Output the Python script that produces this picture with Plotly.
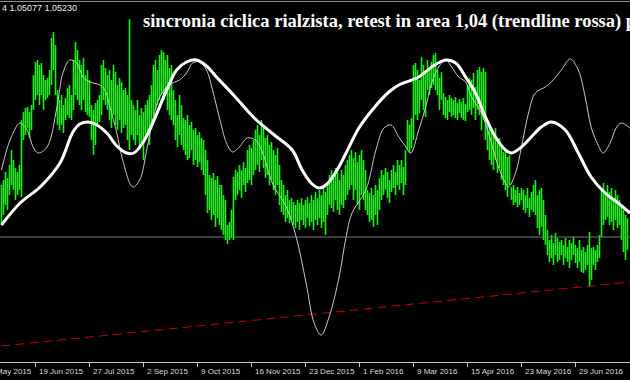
import plotly.graph_objects as go

# ---------------- data ----------------
bar_high = [
    1.0627, 1.0637, 1.0653, 1.0641, 1.0667, 1.0697, 1.0677, 1.0661, 1.0653, 1.0667,
    1.0757, 1.0773, 1.0781, 1.0783, 1.0773, 1.0787, 1.0847, 1.0873, 1.0877, 1.0867,
    1.0871, 1.0847, 1.0837, 1.0841, 1.0857, 1.0921, 1.0933, 1.0907, 1.0817, 1.0797,
    1.0807, 1.0787, 1.0801, 1.0821, 1.0827, 1.0807, 1.0877, 1.0913, 1.0897, 1.0877,
    1.0867, 1.0881, 1.0847, 1.0857, 1.0837, 1.0787, 1.0777, 1.0791, 1.0797, 1.0807,
    1.0867, 1.0877, 1.0861, 1.0847, 1.0857, 1.0837, 1.0867, 1.0853, 1.0827, 1.0841,
    1.0833, 1.0817, 1.0821, 1.0807, 1.0959, 1.0797, 1.0787, 1.0777, 1.0797, 1.0767,
    1.0781, 1.0773, 1.0787, 1.0797, 1.0807, 1.0827, 1.0867, 1.0877, 1.0857, 1.0887,
    1.0897, 1.0893, 1.0877, 1.0887, 1.0861, 1.0867, 1.0817, 1.0797, 1.0767, 1.0807,
    1.0787, 1.0761, 1.0757, 1.0767, 1.0747, 1.0753, 1.0737, 1.0741, 1.0727, 1.0733,
    1.0721, 1.0717, 1.0697, 1.0677, 1.0647, 1.0641, 1.0651, 1.0637, 1.0645, 1.0627,
    1.0627, 1.0607, 1.0597, 1.0547, 1.0553, 1.0577, 1.0643, 1.0657, 1.0653, 1.0667,
    1.0657, 1.0673, 1.0661, 1.0697, 1.0707, 1.0701, 1.0717, 1.0737, 1.0747, 1.0727,
    1.0757, 1.0741, 1.0721, 1.0727, 1.0707, 1.0713, 1.0697, 1.0687, 1.0701, 1.0667,
    1.0637, 1.0627, 1.0607, 1.0617, 1.0597, 1.0601, 1.0593, 1.0587, 1.0597, 1.0591,
    1.0601, 1.0587, 1.0597, 1.0603, 1.0591, 1.0607, 1.0597, 1.0613, 1.0601, 1.0617,
    1.0607, 1.0621, 1.0613, 1.0627, 1.0647, 1.0657, 1.0641, 1.0661, 1.0653, 1.0637,
    1.0657, 1.0647, 1.0667, 1.0677, 1.0687, 1.0697, 1.0681, 1.0693, 1.0673, 1.0687,
    1.0697, 1.0677, 1.0657, 1.0617, 1.0611, 1.0621, 1.0607, 1.0627, 1.0617, 1.0641,
    1.0657, 1.0647, 1.0661, 1.0653, 1.0637, 1.0657, 1.0667, 1.0653, 1.0677, 1.0667,
    1.0677, 1.0663, 1.0697, 1.0757, 1.0747, 1.0761, 1.0867, 1.0871, 1.0857, 1.0837,
    1.0883, 1.0867, 1.0851, 1.0877, 1.0861, 1.0873, 1.0887, 1.0891, 1.0857, 1.0841,
    1.0853, 1.0811, 1.0803, 1.0797, 1.0807, 1.0801, 1.0797, 1.0803, 1.0791, 1.0799,
    1.0793, 1.0801, 1.0789, 1.0827, 1.0841, 1.0837, 1.0851, 1.0823, 1.0857, 1.0863,
    1.0853, 1.0861, 1.0853, 1.0757, 1.0747, 1.0737, 1.0727, 1.0741, 1.0717, 1.0721,
    1.0703, 1.0693, 1.0697, 1.0683, 1.0687, 1.0623, 1.0627, 1.0617, 1.0623, 1.0611,
    1.0621, 1.0617, 1.0607, 1.0621, 1.0601, 1.0613, 1.0627, 1.0637, 1.0607, 1.0617,
    1.0621, 1.0597, 1.0567, 1.0537, 1.0517, 1.0527, 1.0511, 1.0531, 1.0521, 1.0513,
    1.0517, 1.0507, 1.0521, 1.0503, 1.0517, 1.0511, 1.0523, 1.0507, 1.0501, 1.0517,
    1.0497, 1.0503, 1.0493, 1.0507, 1.0533, 1.0501, 1.0503, 1.0497, 1.0507, 1.0527,
    1.0617, 1.0631, 1.0607, 1.0627, 1.0613, 1.0621, 1.0601, 1.0617, 1.0607, 1.0597,
    1.0587, 1.0577, 1.0567, 1.0561,
]
bar_low = [
    1.0547, 1.0567, 1.0587, 1.0577, 1.0607, 1.0627, 1.0617, 1.0597, 1.0607, 1.0617,
    1.0603, 1.0717, 1.0727, 1.0741, 1.0721, 1.0737, 1.0777, 1.0797, 1.0807, 1.0787,
    1.0807, 1.0777, 1.0797, 1.0801, 1.0807, 1.0827, 1.0857, 1.0807, 1.0747, 1.0737,
    1.0747, 1.0731, 1.0757, 1.0767, 1.0761, 1.0757, 1.0777, 1.0807, 1.0797, 1.0787,
    1.0777, 1.0797, 1.0773, 1.0767, 1.0763, 1.0717, 1.0687, 1.0707, 1.0747, 1.0753,
    1.0767, 1.0797, 1.0787, 1.0777, 1.0757, 1.0741, 1.0767, 1.0747, 1.0737, 1.0757,
    1.0731, 1.0741, 1.0747, 1.0717, 1.0697, 1.0727, 1.0717, 1.0707, 1.0727, 1.0697,
    1.0707, 1.0677, 1.0717, 1.0727, 1.0707, 1.0737, 1.0767, 1.0777, 1.0787, 1.0797,
    1.0807, 1.0797, 1.0807, 1.0777, 1.0767, 1.0757, 1.0747, 1.0717, 1.0703, 1.0727,
    1.0707, 1.0697, 1.0687, 1.0677, 1.0681, 1.0697, 1.0667, 1.0677, 1.0663, 1.0673,
    1.0657, 1.0647, 1.0607, 1.0571, 1.0577, 1.0557, 1.0567, 1.0543, 1.0561, 1.0547,
    1.0537, 1.0527, 1.0517, 1.0509, 1.0517, 1.0521, 1.0517, 1.0597, 1.0607, 1.0617,
    1.0601, 1.0627, 1.0613, 1.0631, 1.0637, 1.0627, 1.0647, 1.0657, 1.0667, 1.0653,
    1.0677, 1.0661, 1.0641, 1.0647, 1.0627, 1.0637, 1.0617, 1.0607, 1.0627, 1.0587,
    1.0573, 1.0567, 1.0553, 1.0561, 1.0551, 1.0557, 1.0547, 1.0541, 1.0553, 1.0537,
    1.0557, 1.0547, 1.0541, 1.0561, 1.0545, 1.0553, 1.0537, 1.0557, 1.0547, 1.0561,
    1.0541, 1.0553, 1.0527, 1.0567, 1.0587, 1.0581, 1.0573, 1.0597, 1.0577, 1.0567,
    1.0587, 1.0581, 1.0597, 1.0607, 1.0617, 1.0627, 1.0597, 1.0617, 1.0587, 1.0577,
    1.0607, 1.0597, 1.0577, 1.0567, 1.0553, 1.0557, 1.0543, 1.0567, 1.0547, 1.0577,
    1.0597, 1.0607, 1.0617, 1.0601, 1.0591, 1.0613, 1.0621, 1.0607, 1.0627, 1.0617,
    1.0631, 1.0607, 1.0627, 1.0697, 1.0691, 1.0701, 1.0717, 1.0767, 1.0757, 1.0771,
    1.0797, 1.0777, 1.0763, 1.0817, 1.0807, 1.0821, 1.0827, 1.0817, 1.0807, 1.0777,
    1.0797, 1.0767, 1.0761, 1.0757, 1.0773, 1.0763, 1.0767, 1.0761, 1.0757, 1.0771,
    1.0761, 1.0757, 1.0755, 1.0773, 1.0777, 1.0767, 1.0781, 1.0757, 1.0777, 1.0767,
    1.0737, 1.0757, 1.0717, 1.0697, 1.0677, 1.0667, 1.0657, 1.0677, 1.0651, 1.0661,
    1.0637, 1.0627, 1.0617, 1.0603, 1.0627, 1.0597, 1.0587, 1.0591, 1.0583, 1.0587,
    1.0597, 1.0577, 1.0571, 1.0581, 1.0563, 1.0577, 1.0573, 1.0567, 1.0541, 1.0527,
    1.0543, 1.0517, 1.0507, 1.0487, 1.0473, 1.0481, 1.0467, 1.0487, 1.0473, 1.0477,
    1.0487, 1.0467, 1.0481, 1.0473, 1.0461, 1.0477, 1.0487, 1.0471, 1.0461, 1.0473,
    1.0453, 1.0451, 1.0457, 1.0467, 1.0423, 1.0437, 1.0467, 1.0457, 1.0473, 1.0481,
    1.0523, 1.0547, 1.0557, 1.0563, 1.0547, 1.0553, 1.0537, 1.0557, 1.0541, 1.0547,
    1.0517, 1.0493, 1.0477, 1.0497,
]

# slow cycle (thick white) : bar index, value
slow_idx = [0, 9.3, 19.3, 29.25, 35.7, 39.2, 43.2, 47.7, 52.7, 57.65, 62.6, 66.1, 70.6,
            75.6, 82.6, 87.55, 92.5, 97.5, 102.5, 107.5, 116.45, 126.4, 136.4, 145.35,
            150.3, 154.8, 158.8, 162.8, 167.8, 172.3, 178.7, 186.2, 193.7, 198.7, 208.6,
            215.1, 222.1, 227.1, 232.05, 237.0, 242.0, 247.0, 252.0, 255.0, 260.0, 264.9,
            269.9, 274.9, 281.9, 288.4, 294.8, 301.8, 308.3, 314.2]
slow_val = [1.0547, 1.0591, 1.0623, 1.0671, 1.0733, 1.0749, 1.0753, 1.0747, 1.0731, 1.0705,
            1.0691, 1.0691, 1.0711, 1.0751, 1.0817, 1.0857, 1.0873, 1.0877, 1.0865, 1.0843,
            1.0805, 1.0761, 1.0727, 1.0697, 1.0657, 1.0631, 1.0621, 1.0629, 1.0657, 1.0691,
            1.0741, 1.0781, 1.0813, 1.0827, 1.0843, 1.0863, 1.0877, 1.0871, 1.0843, 1.0811,
            1.0763, 1.0723, 1.0697, 1.0691, 1.0703, 1.0723, 1.0743, 1.0753, 1.0737, 1.0691,
            1.0643, 1.0611, 1.0591, 1.0571]

# fast cycle (thin white)
fast_idx = [0, 4.3, 9.3, 12.8, 15.8, 18.3, 22.8, 27.75, 30.7, 34.2, 37.7, 40.7, 44.2, 49.2,
            51.7, 54.2, 57.65, 60.6, 65.6, 69.1, 72.6, 75.6, 79.1, 82.6, 85.55, 89.0, 92.5,
            95.5, 99.0, 102.5, 105.5, 109.0, 112.5, 115.5, 118.9, 122.9, 126.9, 130.4,
            135.4, 142.4, 147.35, 152.3, 156.3, 159.8, 163.8, 168.8, 172.3, 175.25, 182.2,
            187.2, 191.2, 194.7, 198.7, 202.2, 204.65, 208.6, 212.1, 215.1, 218.6, 222.1,
            225.1, 228.6, 232.05, 235.05, 240.0, 243.5, 248.5, 252.0, 253.5, 257.0, 260.0,
            263.5, 266.9, 271.9, 274.9, 279.9, 284.4, 288.4, 291.85, 294.8, 298.3, 300.8,
            304.3, 307.3, 309.8, 314.2]
fast_val = [1.0657, 1.0717, 1.0751, 1.0737, 1.0703, 1.0691, 1.0703, 1.0783, 1.0851, 1.0877,
            1.0871, 1.0843, 1.0833, 1.0827, 1.0817, 1.0783, 1.0731, 1.0677, 1.0623, 1.0637,
            1.0697, 1.0757, 1.0803, 1.0823, 1.0831, 1.0837, 1.0851, 1.0871, 1.0873, 1.0857,
            1.0817, 1.0761, 1.0711, 1.0693, 1.0703, 1.0721, 1.0717, 1.0693, 1.0631, 1.0583,
            1.0523, 1.0431, 1.0351, 1.0327, 1.0363, 1.0443, 1.0523, 1.0571, 1.0617, 1.0697,
            1.0741, 1.0747, 1.0723, 1.0703, 1.0691, 1.0737, 1.0783, 1.0831, 1.0863, 1.0877,
            1.0863, 1.0843, 1.0833, 1.0803, 1.0771, 1.0731, 1.0663, 1.0631, 1.0623, 1.0651,
            1.0703, 1.0771, 1.0811, 1.0823, 1.0833, 1.0857, 1.0879, 1.0857, 1.0803, 1.0743,
            1.0707, 1.0691, 1.0711, 1.0741, 1.0751, 1.0741]

trend_idx = [0, 314]
trend_val = [1.0305, 1.0433]
last_bid = 1.0523

tick_idx = [-10, 17, 44, 71, 98, 125, 152, 179, 206, 233, 260, 287]
tick_text = ["13 May 2015", "19 Jun 2015", "27 Jul 2015", "2 Sep 2015", "9 Oct 2015",
             "16 Nov 2015", "23 Dec 2015", "1 Feb 2016", "9 Mar 2016", "15 Apr 2016",
             "23 May 2016", "29 Jun 2016"]

title_text = "sincronia ciclica rialzista, retest in area 1,04 (trendline rossa) p"
header_text = "4 1.05077 1.05230"

X_RANGE = [-0.75, 314.25]
Y_RANGE = [1.0273, 1.0993]

# ---------------- figure ----------------
bx, by = [], []
for i, (h, l) in enumerate(zip(bar_high, bar_low)):
    bx += [i, i, None]
    by += [l, h, None]

fig = go.Figure()
fig.add_trace(go.Scatter(x=bx, y=by, mode="lines", line=dict(color="#00ff00", width=1.6),
                         hoverinfo="skip", showlegend=False))
fig.add_trace(go.Scatter(x=trend_idx, y=trend_val, mode="lines",
                         line=dict(color="#cc0000", width=1, dash="9px,5px"),
                         showlegend=False))
fig.add_trace(go.Scatter(x=fast_idx, y=fast_val, mode="lines",
                         line=dict(color="#c8c8c8", width=1, shape="spline", smoothing=1),
                         showlegend=False))
fig.add_trace(go.Scatter(x=slow_idx, y=slow_val, mode="lines",
                         line=dict(color="#ffffff", width=3, shape="spline", smoothing=1),
                         showlegend=False))

fig.add_shape(type="line", xref="paper", x0=0, x1=1, yref="y", y0=last_bid, y1=last_bid,
              line=dict(color="#7a7a7a", width=1))
fig.add_shape(type="line", xref="paper", x0=0, x1=1, yref="paper", y0=1.0015, y1=1.0015,
              line=dict(color="#9a9a9a", width=1))

span = X_RANGE[1] - X_RANGE[0]
for idx, txt in zip(tick_idx, tick_text):
    fig.add_annotation(xref="paper", x=(idx - X_RANGE[0]) / span, xanchor="left",
                       yref="paper", y=0, yanchor="top", yshift=-3, xshift=1,
                       text=txt, showarrow=False,
                       font=dict(family="Liberation Sans", size=8, color="#dcdcdc"))

fig.add_annotation(xref="paper", x=141 / 630, xanchor="left", yref="paper",
                   y=(362 - 21) / 360, yanchor="middle", text="<b>" + title_text + "</b>",
                   showarrow=False,
                   font=dict(family="Liberation Serif", size=18.5, color="#ffffff"))
fig.add_annotation(xref="paper", x=0, xanchor="left", yref="paper",
                   y=(362 - 8) / 360, yanchor="middle", text=header_text,
                   showarrow=False,
                   font=dict(family="Liberation Sans", size=9, color="#eeeeee"))

fig.update_layout(
    width=630, height=380,
    margin=dict(l=0, r=0, t=2, b=18),
    paper_bgcolor="#000000", plot_bgcolor="#000000",
    showlegend=False,
    xaxis=dict(range=X_RANGE, showgrid=False, zeroline=False, showline=True,
               linecolor="#c8c8c8", linewidth=1, ticks="outside", ticklen=4,
               tickcolor="#c8c8c8", tickvals=tick_idx[1:], showticklabels=False),
    yaxis=dict(range=Y_RANGE, showgrid=False, zeroline=False, showticklabels=False,
               showline=False, ticks=""),
)

fig.write_html("out.html")
